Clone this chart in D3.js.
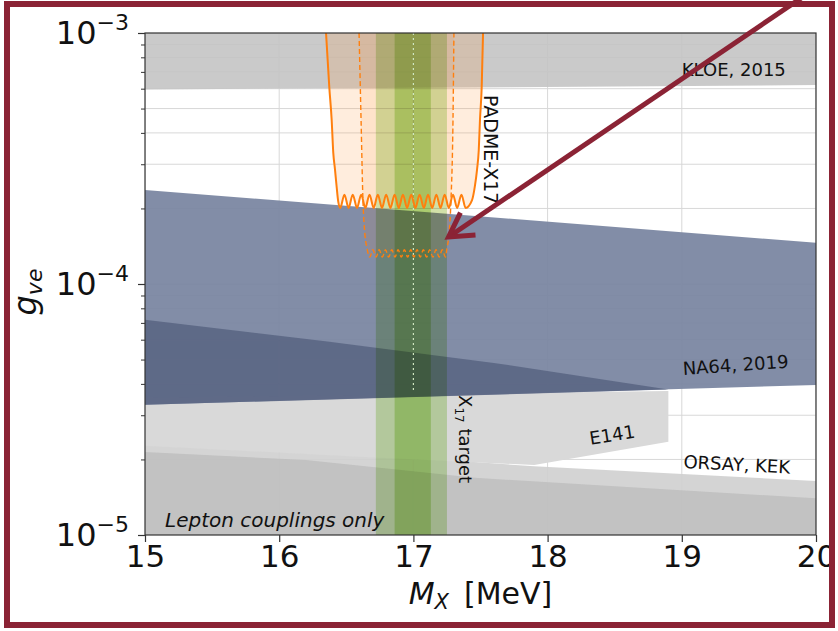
<!DOCTYPE html>
<html lang="en">
<head>
<meta charset="utf-8">
<script src="https://d3js.org/d3.v7.min.js"></script>
<style>
  body { margin: 0; background: #fff; }
  svg { display: block; font-family: "DejaVu Sans", sans-serif; }
</style>
</head>
<body>
<script>
// axes
const massRange = [15, 20];
const couplingRange = [1e-5, 1e-3];
const massTicks = [15, 16, 17, 18, 19, 20];
const couplingTicks = [1e-5, 1e-4, 1e-3];
const couplingExp = ["\u22125", "\u22124", "\u22123"];

// KLOE 2015: excluded above the lower edge
const kloeMass = [15, 20];
const kloeLower = [5.95e-4, 6.2e-4];

// NA64 2019 band
const na64Mass = [15, 20];
const na64Upper = [2.37e-4, 1.46e-4];
const na64Lower = [3.30e-5, 3.96e-5];

// darker overlap inside NA64
const overlapMass = [15, 16.36, 17.6, 18.9, 15];
const overlapG = [7.2e-5, 5.9e-5, 4.85e-5, 3.8e-5, 3.3e-5];

// E141
const e141Mass = [15, 18.9, 18.9, 17.9, 16.6, 15];
const e141G = [3.52e-5, 3.75e-5, 2.35e-5, 1.9e-5, 2.05e-5, 2.27e-5];

// ORSAY, KEK
const orsayMass = [15, 16.6, 17.9, 20, 20, 15];
const orsayG = [2.32e-5, 2.1e-5, 1.88e-5, 1.64e-5, 1e-5, 1e-5];

// lepton-coupling-only region (bottom)
const leptonMass = [15, 16.2, 17.46, 20, 20, 15];
const leptonG = [2.14e-5, 1.99e-5, 1.69e-5, 1.40e-5, 1e-5, 1e-5];

// PADME-X17 sensitivity, solid curve
const padmeMass = [16.349, 16.373, 16.391, 16.403, 16.416, 16.428, 16.440,
  16.455, 16.486, 16.517, 16.548, 16.580, 16.611, 16.642, 16.673, 16.704, 16.735,
  16.766, 16.797, 16.829, 16.860, 16.891, 16.922, 16.953, 16.984, 17.015, 17.046,
  17.078, 17.109, 17.140, 17.171, 17.202, 17.233, 17.264, 17.295, 17.326, 17.358,
  17.389, 17.437, 17.459, 17.474, 17.487, 17.496, 17.509, 17.519];
const padmeG = [1e-3, 6.11e-4, 4.5e-4, 3.33e-4, 2.85e-4, 2.44e-4, 2.13e-4,
  2.01e-4, 2.27e-4, 2.01e-4, 2.27e-4, 2.01e-4, 2.27e-4, 2.01e-4, 2.27e-4, 2.01e-4, 2.27e-4,
  2.01e-4, 2.27e-4, 2.01e-4, 2.27e-4, 2.01e-4, 2.27e-4, 2.01e-4, 2.27e-4, 2.01e-4, 2.27e-4,
  2.01e-4, 2.27e-4, 2.01e-4, 2.27e-4, 2.01e-4, 2.27e-4, 2.01e-4, 2.27e-4, 2.01e-4, 2.27e-4,
  2.01e-4, 2.16e-4, 2.47e-4, 2.85e-4, 3.41e-4, 4.5e-4, 6.11e-4, 1e-3];

// PADME-X17 sensitivity, dashed curve
const padmeDashMass = [16.595, 16.610, 16.624, 16.639, 16.654,
  16.675, 16.698, 16.722, 16.745, 16.769, 16.792, 16.816, 16.839, 16.863, 16.886,
  16.910, 16.933, 16.957, 16.980, 17.004, 17.027, 17.051, 17.074, 17.098, 17.121,
  17.145, 17.168, 17.192, 17.215, 17.239,
  17.250, 17.265, 17.280, 17.295, 17.302];
const padmeDashG = [1e-3, 4.5e-4, 2.16e-4, 1.57e-4, 1.39e-4,
  1.28e-4, 1.37e-4, 1.28e-4, 1.37e-4, 1.28e-4, 1.37e-4, 1.28e-4, 1.37e-4, 1.28e-4, 1.37e-4,
  1.28e-4, 1.37e-4, 1.28e-4, 1.37e-4, 1.28e-4, 1.37e-4, 1.28e-4, 1.37e-4, 1.28e-4, 1.37e-4,
  1.28e-4, 1.37e-4, 1.28e-4, 1.37e-4, 1.28e-4,
  1.39e-4, 1.57e-4, 2.16e-4, 4.5e-4, 1e-3];

// X17 target mass window
const targetOuter = [16.72, 17.25];
const targetInner = [16.86, 17.13];
const targetCentre = 17.0;
const targetLineBottom = 3.7e-5;

// arrow tip (data coords)
const arrowTip = [17.262, 1.54e-4];

const W = 838, H = 631;
const x = d3.scaleLinear().domain(massRange).range([145, 816]);
const y = d3.scaleLog().domain(couplingRange).range([535, 33]);

const svg = d3.select("body").append("svg").attr("width", W).attr("height", H);

svg.append("clipPath").attr("id", "plot")
  .append("rect").attr("x", 145).attr("y", 33).attr("width", 671).attr("height", 502);

const plot = svg.append("g").attr("clip-path", "url(#plot)");

// grid
const minorG = y.ticks();
plot.selectAll(".hgrid").data(minorG).join("line")
  .attr("x1", 145).attr("x2", 816)
  .attr("y1", d => y(d)).attr("y2", d => y(d))
  .attr("stroke", "#d8d8d8").attr("stroke-width", 1);
plot.selectAll(".vgrid").data(massTicks).join("line")
  .attr("x1", d => x(d)).attr("x2", d => x(d))
  .attr("y1", 33).attr("y2", 535)
  .attr("stroke", "#d8d8d8").attr("stroke-width", 1);

const line = d3.line().x(d => x(d[0])).y(d => y(d[1]));
const pts = (ms, gs) => ms.map((m, i) => [m, gs[i]]);

function poly(p, fill, op) {
  plot.append("path").attr("d", line(p) + "Z")
    .attr("fill", fill).attr("fill-opacity", op);
}

// KLOE
poly(pts(kloeMass, kloeLower).concat([[massRange[1], couplingRange[1]], [massRange[0], couplingRange[1]]]), "#c4c4c4", 0.9);
// ORSAY, E141, lepton region
poly(pts(orsayMass, orsayG), "#d0d0d0", 0.92);
poly(pts(e141Mass, e141G), "#d9d9d9", 1);
poly(pts(leptonMass, leptonG), "#b8b8b8", 0.65);
// NA64
poly(pts(na64Mass, na64Upper).concat(pts(na64Mass, na64Lower).reverse()), "#7b87a2", 0.95);
poly(pts(overlapMass, overlapG), "#56627f", 0.8);

// PADME fills
const smooth = d3.line().x(d => x(d[0])).y(d => y(d[1])).curve(d3.curveMonotoneX);
const padmePts = pts(padmeMass, padmeG);
const padmeDashPts = pts(padmeDashMass, padmeDashG);
plot.append("path").attr("d", smooth(padmePts) + "Z")
  .attr("fill", "#ff7f0e").attr("fill-opacity", 0.14);
plot.append("path").attr("d", smooth(padmeDashPts) + "Z")
  .attr("fill", "#ff7f0e").attr("fill-opacity", 0.09);

// X17 target window (multiplied over the bands)
plot.append("rect")
  .attr("x", x(targetOuter[0])).attr("width", x(targetOuter[1]) - x(targetOuter[0]))
  .attr("y", 33).attr("height", 502)
  .attr("fill", "#d2ebb8").style("mix-blend-mode", "multiply");
plot.append("rect")
  .attr("x", x(targetInner[0])).attr("width", x(targetInner[1]) - x(targetInner[0]))
  .attr("y", 33).attr("height", 502)
  .attr("fill", "#cfe9a8").style("mix-blend-mode", "multiply");
plot.append("line")
  .attr("x1", x(targetCentre)).attr("x2", x(targetCentre))
  .attr("y1", y(couplingRange[1])).attr("y2", y(targetLineBottom))
  .attr("stroke", "#cfe6c0").attr("stroke-width", 1.2).attr("stroke-dasharray", "2,3");

// PADME curves
plot.append("path").attr("d", smooth(padmeDashPts))
  .attr("fill", "none").attr("stroke", "#ff7f0e").attr("stroke-width", 1.4)
  .attr("stroke-dasharray", "5,3");
plot.append("path").attr("d", smooth(padmePts))
  .attr("fill", "none").attr("stroke", "#ff7f0e").attr("stroke-width", 2);

// labels
function label(txt, m, g, rot, size, italic) {
  const t = svg.append("text")
    .attr("transform", `translate(${x(m)},${y(g)}) rotate(${rot})`)
    .attr("font-size", size).attr("fill", "#111").text(txt);
  if (italic) t.attr("font-style", "italic");
  return t;
}
label("KLOE, 2015", 19.0, 6.74e-4, 0, 18);
label("NA64, 2019", 19.01, 4.34e-5, -4, 18);
label("E141", 18.32, 2.29e-5, -9, 18);
label("ORSAY, KEK", 19.01, 1.85e-5, 3, 18);
label("PADME-X17", 17.526, 5.66e-4, 90, 19);
label("Lepton couplings only", 15.149, 1.076e-5, 0, 20, true);
const xt = svg.append("text")
  .attr("transform", `translate(${x(17.34)},${y(3.61e-5)}) rotate(90)`)
  .attr("font-size", 18).attr("fill", "#111");
xt.append("tspan").text("X");
xt.append("tspan").attr("font-size", 12).attr("dy", 4).text("17");
xt.append("tspan").attr("dy", -4).text(" target");

// spines
svg.append("rect").attr("x", 145).attr("y", 33).attr("width", 671).attr("height", 502)
  .attr("fill", "none").attr("stroke", "#333").attr("stroke-width", 1.2);

// x axis
const xAxis = svg.append("g").attr("transform", "translate(0,535)")
  .call(d3.axisBottom(x).tickValues(massTicks).tickSize(7).tickPadding(3).tickFormat(d3.format("d")));
xAxis.select(".domain").remove();
xAxis.selectAll("line").attr("stroke", "#333").attr("stroke-width", 1.2);
xAxis.selectAll("text").attr("font-size", 31).attr("font-family", "DejaVu Sans").attr("fill", "#111");

// y axis, minor then major
const yMinor = svg.append("g").attr("transform", "translate(145,0)")
  .call(d3.axisLeft(y).tickValues(minorG.filter(d => !couplingTicks.includes(d))).tickSize(4).tickFormat(() => ""));
yMinor.select(".domain").remove();
yMinor.selectAll("line").attr("stroke", "#333");
const yAxis = svg.append("g").attr("transform", "translate(145,0)")
  .call(d3.axisLeft(y).tickValues(couplingTicks).tickSize(7).tickFormat(() => ""));
yAxis.select(".domain").remove();
yAxis.selectAll("line").attr("stroke", "#333").attr("stroke-width", 1.2);
yAxis.selectAll(".tick").each(function (d, i) {
  const t = d3.select(this).append("text")
    .attr("x", -16).attr("y", 10).attr("text-anchor", "end")
    .attr("fill", "#111").attr("font-size", 32).attr("font-family", "DejaVu Sans");
  t.append("tspan").text("10");
  t.append("tspan").attr("font-size", 22).attr("dy", -14).text(couplingExp[i]);
});

// axis titles
const xl = svg.append("text").attr("x", (x(massRange[0]) + x(massRange[1])) / 2).attr("y", 604)
  .attr("text-anchor", "middle").attr("font-size", 30).attr("fill", "#111");
xl.append("tspan").attr("font-style", "italic").text("M");
xl.append("tspan").attr("font-style", "italic").attr("font-size", 21).attr("dy", 5).text("X");
xl.append("tspan").attr("dy", -5).text("\u2002[MeV]");

const yl = svg.append("text")
  .attr("transform", `translate(36,${(y(couplingRange[0]) + y(couplingRange[1])) / 2 + 8}) rotate(-90)`)
  .attr("text-anchor", "middle").attr("font-size", 32).attr("fill", "#111");
yl.append("tspan").attr("font-style", "italic").text("g");
yl.append("tspan").attr("font-style", "italic").attr("font-size", 22).attr("dy", 6).text("ve");

// frame and arrow
const red = "#8b2335";
svg.append("rect").attr("x", 7).attr("y", 4).attr("width", 825).attr("height", 621)
  .attr("fill", "none").attr("stroke", red).attr("stroke-width", 6);

const tx = x(arrowTip[0]), ty = y(arrowTip[1]);
const ang = Math.atan2(-0.561, 0.828);
svg.append("line")
  .attr("x1", tx + 3 * Math.cos(ang)).attr("y1", ty + 3 * Math.sin(ang))
  .attr("x2", tx + 600 * Math.cos(ang)).attr("y2", ty + 600 * Math.sin(ang))
  .attr("stroke", red).attr("stroke-width", 5);
const arm = 27, spread = 0.52;
svg.append("path")
  .attr("d", d3.line()([
    [tx + arm * Math.cos(ang - spread), ty + arm * Math.sin(ang - spread)],
    [tx, ty],
    [tx + arm * Math.cos(ang + spread), ty + arm * Math.sin(ang + spread)]
  ]))
  .attr("fill", "none").attr("stroke", red).attr("stroke-width", 5)
  .attr("stroke-linejoin", "miter");
</script>
</body>
</html>
